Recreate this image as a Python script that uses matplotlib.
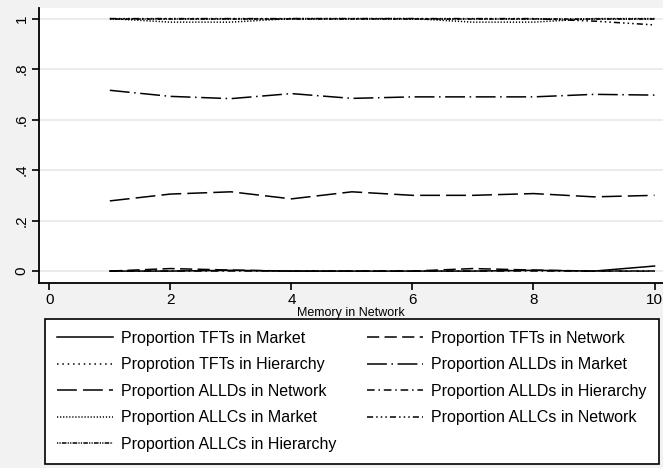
# plot.py :: proportions of strategies vs memory in network (stata s2mono look)
# --------------------------------------------------------
import matplotlib
matplotlib.use('Agg')
from matplotlib import pyplot as plt

# =========================================================
## --- data --- ##
memory = [1, 2, 3, 4, 5, 6, 7, 8, 9, 10]
tft_market = [0., 0., 0.003, 0., 0., 0., 0., 0.003, 0., 0.02]
tft_network = [0., 0.01, 0.004, 0., 0., 0., 0.01, 0.004, 0., 0.]
tft_hier = [1., 1., 1., 1., 1., 1., 1., 1., 1., 1.]
alld_market = [0.716, 0.692, 0.683, 0.703, 0.684, 0.690, 0.690, 0.690, 0.700, 0.697]
alld_network = [0.278, 0.305, 0.314, 0.286, 0.314, 0.300, 0.300, 0.307, 0.294, 0.300]
alld_hier = [0., 0., 0., 0., 0., 0., 0., 0., 0., 0.]
allc_market = [1., 0.986, 0.986, 1., 1., 1., 0.986, 0.986, 1., 1.]
allc_network = [1., 1., 1., 1., 1., 1., 1., 1., 0.99, 0.975]
allc_hier = [1., 1., 1., 1., 1., 1., 1., 1., 1., 1.]

labels = ['Proportion TFTs in Market', 'Proportion TFTs in Network',
          'Proprotion TFTs in Hierarchy', 'Proportion ALLDs in Market',
          'Proportion ALLDs in Network', 'Proportion ALLDs in Hierarchy',
          'Proportion ALLCs in Market', 'Proportion ALLCs in Network',
          'Proportion ALLCs in Hierarchy']
series = [tft_market, tft_network, tft_hier, alld_market, alld_network,
          alld_hier, allc_market, allc_network, allc_hier]

styles = [
    '-',
    (0, (8, 3.5)),
    (0, (1, 2.5)),
    (0, (13, 3, 1, 3)),
    (0, (13, 4)),
    (0, (5, 2.5, 1, 2.5)),
    (0, (0.8, 1.2)),
    (0, (4, 2, 1, 2, 1, 2, 1, 2)),
    (0, (0.8, 0.8, 0.8, 0.8, 3, 0.8)),
]

# =========================================================
## --- drawing --- ##
plt.rcParams['font.family'] = ['Liberation Sans', 'DejaVu Sans']
bg = '#f2f2f2'

fig = plt.figure(figsize=(6.63, 4.68), dpi=100, facecolor=bg)
W, H = 663., 468.
ax = fig.add_axes([39/W, 1 - 282.7/H, 1 - 39/W, (282.7 - 8)/H])
ax.set_facecolor('white')

lines = []
for yy, lab, ls in zip(series, labels, styles):
    ln, = ax.plot(memory, yy, color='black', linewidth=1.1, linestyle=ls, label=lab)
    lines.append(ln)

ax.set_xlim(-0.17, 10.14)
ax.set_ylim(-0.046, 1.042)
ax.set_xticks([0, 2, 4, 6, 8, 10])
ax.set_yticks([0, 0.2, 0.4, 0.6, 0.8, 1.0])
ax.set_yticklabels(['0', '.2', '.4', '.6', '.8', '1'], rotation=90, va='center')
ax.tick_params(axis='both', labelsize=11, width=1.2, length=5, color='black', pad=2.5)
ax.yaxis.grid(True, color='#e8e8e8', linewidth=1.2)
ax.set_axisbelow(True)
for sp in ['top', 'right']:
    ax.spines[sp].set_visible(False)
for sp in ['left', 'bottom']:
    ax.spines[sp].set_linewidth(1.3)
ax.set_xlabel('Memory in Network', fontsize=9, labelpad=0)

# row-major order like stata
order = [0, 2, 4, 6, 8, 1, 3, 5, 7]
leg = fig.legend([lines[i] for i in order], [labels[i] for i in order],
                 loc='upper left', bbox_to_anchor=(45/W, 1 - 319/H),
                 ncol=2, fontsize=11.5, frameon=True,
                 fancybox=False, edgecolor='black', facecolor='white',
                 handlelength=3.5, handletextpad=0.5, labelspacing=0.72,
                 columnspacing=1.95, borderpad=0.75, borderaxespad=0.)
leg.get_frame().set_linewidth(1.2)
leg.get_frame().set_alpha(None)

fig.savefig('out.png', dpi=100, facecolor=bg)
